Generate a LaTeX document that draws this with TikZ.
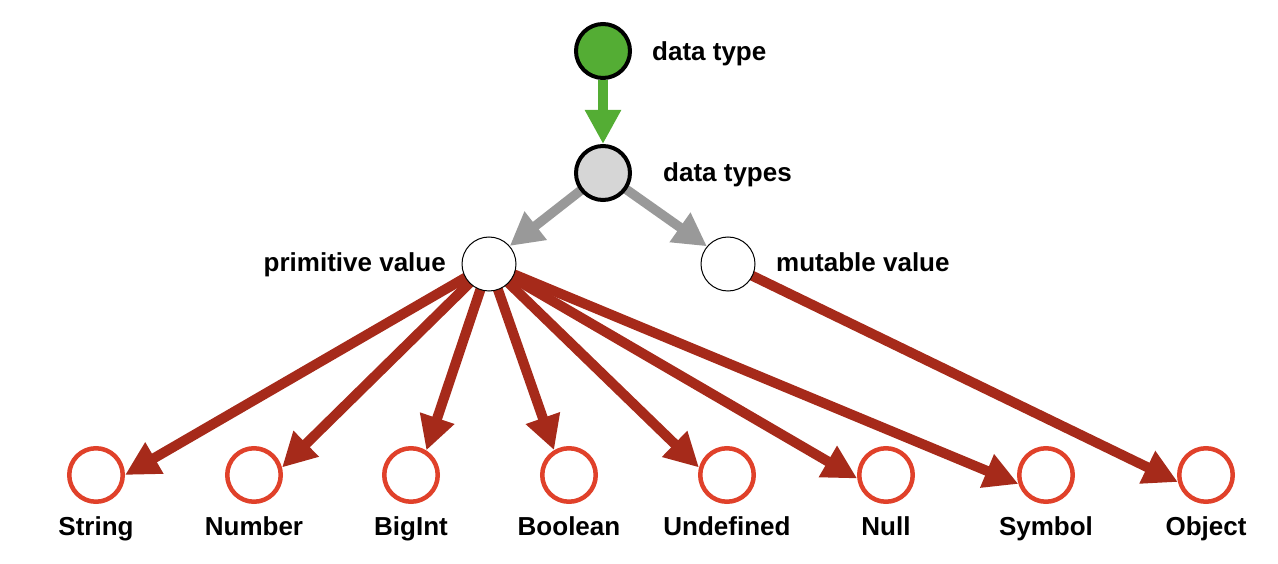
\documentclass[tikz,border=0pt]{standalone}
\usepackage{fontspec}
\setmainfont{Liberation Sans}
\usetikzlibrary{arrows.meta,backgrounds}
\definecolor{typegreen}{RGB}{84,173,52}
\definecolor{typegray}{RGB}{214,214,214}
\definecolor{arrowgray}{RGB}{153,153,153}
\definecolor{arrowred}{RGB}{166,42,26}
\definecolor{ringred}{RGB}{224,65,42}
\begin{document}
\begin{tikzpicture}[x=1pt,y=-1pt,
        dot/.style={circle,draw,inner sep=0pt,minimum size=54pt,fill=white},
        lbl/.style={inner sep=0pt,font=\fontsize{26}{30}\selectfont\bfseries},
        greenarrow/.style={line width=9.5pt,typegreen,-{Triangle[length=34pt,width=34pt]}},
        grayarrow/.style={line width=9.5pt,arrowgray,-{Triangle[length=33pt,width=34pt]}},
        redarrow/.style={line width=10pt,arrowred,-{Triangle[length=34pt,width=34pt]}}]
        \useasboundingbox (0,0) rectangle (1278,564);
        % top of the tree
        \node[dot,line width=4pt,fill=typegreen] (dt) at (603,51) {};
        \node[dot,line width=4pt,fill=typegray] (dts) at (603,173) {};
        \node[dot,line width=1pt] (prim) at (489,264) {};
        \node[dot,line width=1pt] (mut) at (728,264) {};
        \node[lbl,anchor=base west] (dtlbl) at (652,61) {data type};
        \node[lbl,anchor=base west] (dtslbl) at (663,182) {data types};
        \node[lbl,anchor=base east] (primlbl) at (446,272) {primitive value};
        \node[lbl,anchor=base west] (mutlbl) at (776,272) {mutable value};
        % the eight types
        \node[dot,line width=4.5pt,draw=ringred,minimum size=53.5pt] (str) at (96,475) {};
        \node[dot,line width=4.5pt,draw=ringred,minimum size=53.5pt] (num) at (254,475) {};
        \node[dot,line width=4.5pt,draw=ringred,minimum size=53.5pt] (bigint) at (411,475) {};
        \node[dot,line width=4.5pt,draw=ringred,minimum size=53.5pt] (bool) at (569,475) {};
        \node[dot,line width=4.5pt,draw=ringred,minimum size=53.5pt] (undef) at (727,475) {};
        \node[dot,line width=4.5pt,draw=ringred,minimum size=53.5pt] (null) at (886,475) {};
        \node[dot,line width=4.5pt,draw=ringred,minimum size=53.5pt] (sym) at (1046,475) {};
        \node[dot,line width=4.5pt,draw=ringred,minimum size=53.5pt] (obj) at (1206,475) {};
        \node[lbl,anchor=base] (strlbl) at (96,535) {String};
        \node[lbl,anchor=base] (numlbl) at (254,535) {Number};
        \node[lbl,anchor=base] (bigintlbl) at (411,535) {BigInt};
        \node[lbl,anchor=base] (boollbl) at (569,535) {Boolean};
        \node[lbl,anchor=base] (undeflbl) at (727,535) {Undefined};
        \node[lbl,anchor=base] (nulllbl) at (886,535) {Null};
        \node[lbl,anchor=base] (symlbl) at (1046,535) {Symbol};
        \node[lbl,anchor=base] (objlbl) at (1206,535) {Object};
        % connectors
        \draw[greenarrow] (dt) -- (dts);
        \begin{scope}[on background layer]
            \draw[grayarrow] (dts.center) -- (prim.41);
            \draw[grayarrow] (dts.center) -- (mut.140);
            \draw[redarrow] (prim.center) -- (str.east);
            \draw[redarrow] (prim.center) -- (num.15);
            \draw[redarrow] (prim.center) -- (bigint.58);
            \draw[redarrow] (prim.center) -- (bool.121);
            \draw[redarrow] (prim.center) -- (undef.165);
            \draw[redarrow] (prim.center) -- (null.187);
            \draw[redarrow] (prim.center) -- (sym.198);
            \draw[redarrow] (mut.center) -- (obj.194);
        \end{scope}
\end{tikzpicture}
\end{document}
